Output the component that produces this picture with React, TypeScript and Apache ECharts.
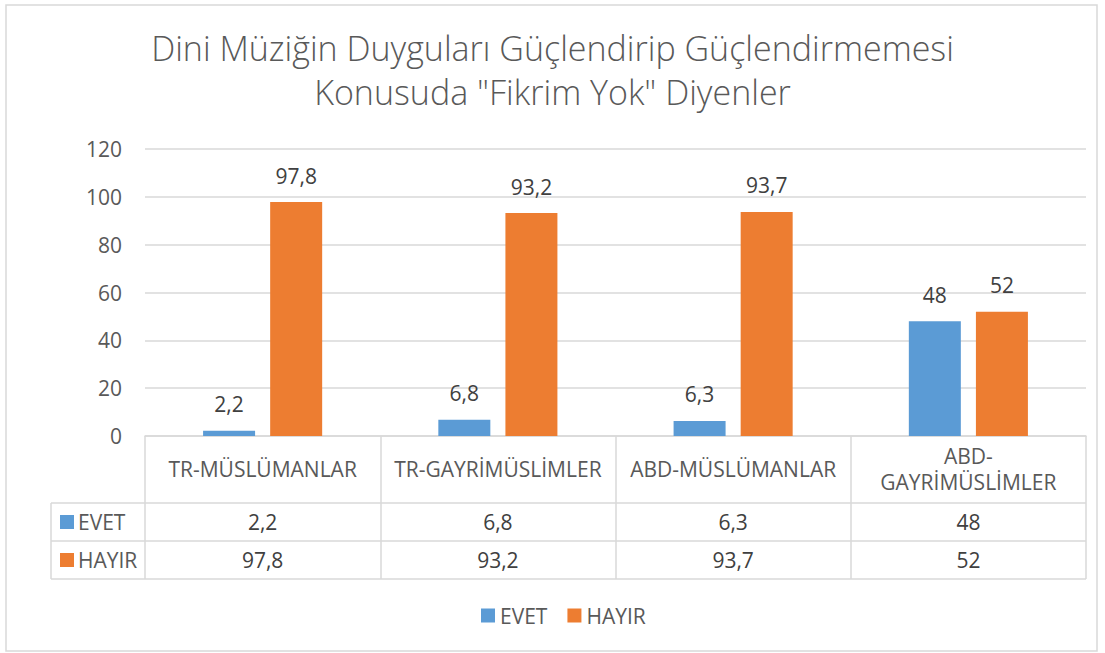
import React, { useEffect, useRef } from "react";
import * as echarts from "echarts";

const titleLines = ["Dini Müziğin Duyguları Güçlendirip Güçlendirmemesi", "Konusuda \"Fikrim Yok\" Diyenler"];
const categories = ["TR-MÜSLÜMANLAR", "TR-GAYRİMÜSLİMLER", "ABD-MÜSLÜMANLAR", "ABD-GAYRİMÜSLİMLER"];
const seriesNames = ["EVET", "HAYIR"];
const evet = [2.2, 6.8, 6.3, 48];
const hayir = [97.8, 93.2, 93.7, 52];
const yTicks = { min: 0, max: 120, interval: 20 };
const colors = ["#5B9BD5", "#ED7D31"];

const FONT = "'Open Sans'";
const FS = 21;
const fmt = (v: number) => String(v).replace(".", ",");

export default function App() {
  const ref = useRef<HTMLDivElement>(null);
  useEffect(() => {
    document.body.style.margin = "0";
    const chart = echarts.init(ref.current!, null, { renderer: "svg" });
    const L = 145, R = 1086, T = 149, B = 436;
    const tblLeft = 51;
    const rowY = [503, 541, 579];
    const line = (x1: number, y1: number, x2: number, y2: number) => ({
      type: "line",
      shape: { x1, y1, x2, y2 },
      style: { stroke: "#d9d9d9", lineWidth: 1.5 },
      silent: true,
    });
    const graphics: any[] = [
      {
        type: "rect",
        shape: { x: 6, y: 5, width: 1091, height: 646 },
        style: { fill: "none", stroke: "#d9d9d9", lineWidth: 1.5 },
        silent: true,
      },
      ...rowY.map((y) => line(tblLeft, y, R, y)),
      line(tblLeft, rowY[0], tblLeft, rowY[2]),
    ];
    seriesNames.forEach((n, i) => {
      const cy = (rowY[i] + rowY[i + 1]) / 2;
      graphics.push({
        type: "rect",
        shape: { x: 60, y: cy - 7, width: 14, height: 14 },
        style: { fill: colors[i] },
      });
      graphics.push({
        type: "text",
        x: 78,
        y: cy,
        style: { text: n, font: `${FS}px ${FONT}`, fill: "#595959", verticalAlign: "middle", align: "left" },
      });
    });

    const tableAxis = (vals: number[], margin: number) => ({
      type: "category",
      data: vals.map(fmt),
      position: "bottom",
      offset: 0,
      axisLine: { show: false },
      axisTick: { show: false },
      splitLine: { show: false },
      axisLabel: {
        interval: 0,
        margin,
        verticalAlign: "middle",
        color: "#404040",
        fontFamily: FONT,
        fontSize: FS,
      },
    });

    chart.setOption({
      animation: false,
      backgroundColor: "#ffffff",
      color: colors,
      title: {
        text: titleLines.join("\n"),
        left: "center",
        top: 21,
        textStyle: { color: "#595959", fontFamily: FONT, fontSize: 34, fontWeight: 300, lineHeight: 44 },
      },
      grid: { left: L, right: 1105 - R, top: T, bottom: 653 - B, containLabel: false },
      legend: {
        data: seriesNames,
        bottom: 22,
        left: 476,
        icon: "rect",
        itemWidth: 14,
        itemHeight: 14,
        itemGap: 20,
        textStyle: { color: "#595959", fontFamily: FONT, fontSize: FS },
      },
      xAxis: [
        {
          type: "category",
          data: categories,
          axisLine: { show: true, lineStyle: { color: "#d9d9d9", width: 1.5 } },
          axisTick: { show: true, length: 143, lineStyle: { color: "#d9d9d9", width: 1.5 } },
          axisLabel: {
            interval: 0,
            margin: 33,
            verticalAlign: "middle",
            color: "#595959",
            fontFamily: FONT,
            fontSize: FS,
            lineHeight: 26,
            formatter: (v: string) => (v.length > 17 ? v.replace("-", "-\n") : v),
          },
        },
        tableAxis(evet, 86),
        tableAxis(hayir, 124),
      ],
      yAxis: {
        type: "value",
        min: yTicks.min,
        max: yTicks.max,
        interval: yTicks.interval,
        axisLine: { show: false },
        axisTick: { show: false },
        splitLine: { lineStyle: { color: "#d9d9d9", width: 1.5 } },
        axisLabel: { color: "#595959", fontFamily: FONT, fontSize: FS, margin: 23 },
      },
      series: [
        { name: seriesNames[0], data: evet },
        { name: seriesNames[1], data: hayir },
      ].map((s) => ({
        ...s,
        type: "bar",
        xAxisIndex: 0,
        barWidth: 52,
        barGap: "29%",
        label: {
          show: true,
          position: "top",
          distance: 16,
          color: "#404040",
          fontFamily: FONT,
          fontSize: FS,
          formatter: (p: any) => fmt(p.value),
        },
      })),
      graphic: graphics,
    });
    return () => chart.dispose();
  }, []);
  return <div ref={ref} style={{ width: 1105, height: 653 }} />;
}
